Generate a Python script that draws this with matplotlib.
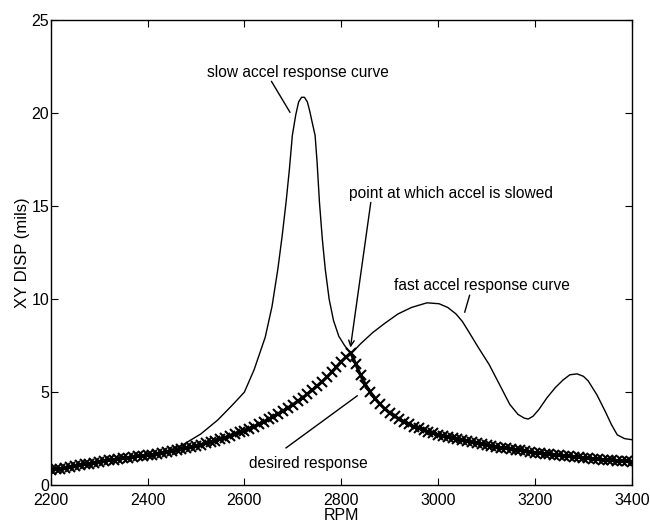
import numpy as np
import matplotlib
matplotlib.use("Agg")
import matplotlib.pyplot as plt

plt.rcParams['font.family'] = ['Liberation Sans', 'DejaVu Sans']

# desired response, sampled every 10 rpm from 2200 to 3400
desired_rpm = np.arange(2200, 3401, 10)
desired_disp = [
    0.80, 0.84, 0.88, 0.93, 0.98, 1.03, 1.08, 1.12, 1.16, 1.20,
    1.25, 1.29, 1.33, 1.37, 1.40, 1.44, 1.48, 1.51, 1.54, 1.57,
    1.60, 1.64, 1.68, 1.72, 1.76,
    1.81, 1.86, 1.92, 1.98, 2.04, 2.10, 2.17, 2.24, 2.31, 2.39,
    2.47, 2.55, 2.64, 2.73, 2.83, 2.93,
    3.04, 3.15, 3.27, 3.40, 3.54, 3.68, 3.83, 3.99, 4.15, 4.32,
    4.50, 4.69, 4.89, 5.10, 5.32, 5.55, 5.80, 6.06, 6.34, 6.64,
    6.88, 7.10,
    6.50, 5.90, 5.40, 5.00, 4.65, 4.35, 4.10, 3.88,
    3.70, 3.54, 3.40, 3.27, 3.15, 3.05, 2.96, 2.87, 2.79, 2.72,
    2.65, 2.58, 2.52, 2.46, 2.40, 2.35, 2.30, 2.25, 2.20, 2.15,
    2.11, 2.06, 2.02, 1.98, 1.94, 1.90, 1.86, 1.82, 1.79, 1.75,
    1.72, 1.69, 1.66, 1.63, 1.60, 1.57, 1.54, 1.51, 1.49, 1.46,
    1.44, 1.41, 1.39, 1.37, 1.35, 1.33, 1.31, 1.29, 1.27, 1.25,
]

slow_rpm = [2200, 2300, 2400, 2440, 2475, 2510, 2545, 2575, 2600, 2620,
            2643, 2657, 2669, 2678, 2686, 2693, 2699, 2706, 2712, 2718,
            2724, 2730, 2735, 2740, 2746, 2750, 2755, 2761, 2767, 2775,
            2784, 2795, 2807, 2820]
slow_disp = [0.80, 1.25, 1.60, 1.80, 2.20, 2.75, 3.50, 4.30, 5.00, 6.20,
             7.95, 9.60, 11.6, 13.4, 15.2, 17.0, 18.8, 19.9, 20.6, 20.85,
             20.85, 20.6, 20.1, 19.5, 18.8, 17.4, 15.2, 13.2, 11.6, 10.0,
             8.85, 8.00, 7.50, 7.05]

fast_rpm = [2820, 2840, 2865, 2890, 2917, 2945, 2977, 3002, 3020, 3037,
            3050, 3062, 3083, 3105, 3127, 3148, 3165, 3178, 3186, 3196,
            3208, 3225, 3242, 3258, 3272, 3287, 3300, 3310, 3328, 3345,
            3358, 3370, 3385, 3400]
fast_disp = [7.05, 7.60, 8.20, 8.70, 9.20, 9.55, 9.80, 9.75, 9.55, 9.20,
             8.80, 8.30, 7.40, 6.50, 5.40, 4.34, 3.80, 3.60, 3.55, 3.70,
             4.06, 4.70, 5.24, 5.65, 5.93, 5.98, 5.85, 5.60, 4.85, 3.97,
             3.25, 2.70, 2.50, 2.44]

fig = plt.figure(figsize=(6.5, 5.29), dpi=100)
ax = fig.add_axes([0.078, 0.083, 0.894, 0.879])

ax.plot(slow_rpm, slow_disp, color='black', lw=1.0)
ax.plot(fast_rpm, fast_disp, color='black', lw=1.0)
# dense x markers merge into a thick band
ax.plot(desired_rpm, desired_disp, ls='-', lw=2.2, marker='x', ms=7,
        mew=1.5, color='black')

ax.set_xlim(2200, 3400)
ax.set_ylim(0, 25)
ax.set_xticks(range(2200, 3401, 200))
ax.set_yticks(range(0, 26, 5))
ax.tick_params(direction='in', length=5, top=True, right=True,
               labelsize=11.5)
ax.tick_params(axis='x', pad=6)
ax.tick_params(axis='y', pad=1)
for s in ax.spines.values():
    s.set_linewidth(1.0)
ax.set_xlabel('RPM', fontsize=11.5, labelpad=0)
ax.set_ylabel('XY DISP (mils)', fontsize=12, labelpad=1)

# callouts
fs = 11.2
ax.text(2523, 22.2, 'slow accel response curve', fontsize=fs, va='center')
ax.plot([2656, 2694], [21.7, 20.05], color='black', lw=1.0)

ax.text(2817, 15.7, 'point at which accel is slowed', fontsize=fs, va='center')
ax.annotate('', xy=(2819, 7.4), xytext=(2861, 15.2),
            arrowprops=dict(arrowstyle='->', color='black', lw=1.0,
                            shrinkA=0, shrinkB=0))

ax.text(2909, 10.75, 'fast accel response curve', fontsize=fs, va='center')
ax.plot([3065, 3055], [10.2, 9.3], color='black', lw=1.0)

ax.text(2609, 1.18, 'desired response', fontsize=fs, va='center')
ax.plot([2686, 2833], [2.0, 4.8], color='black', lw=1.0)

fig.savefig('out.png', dpi=100)
